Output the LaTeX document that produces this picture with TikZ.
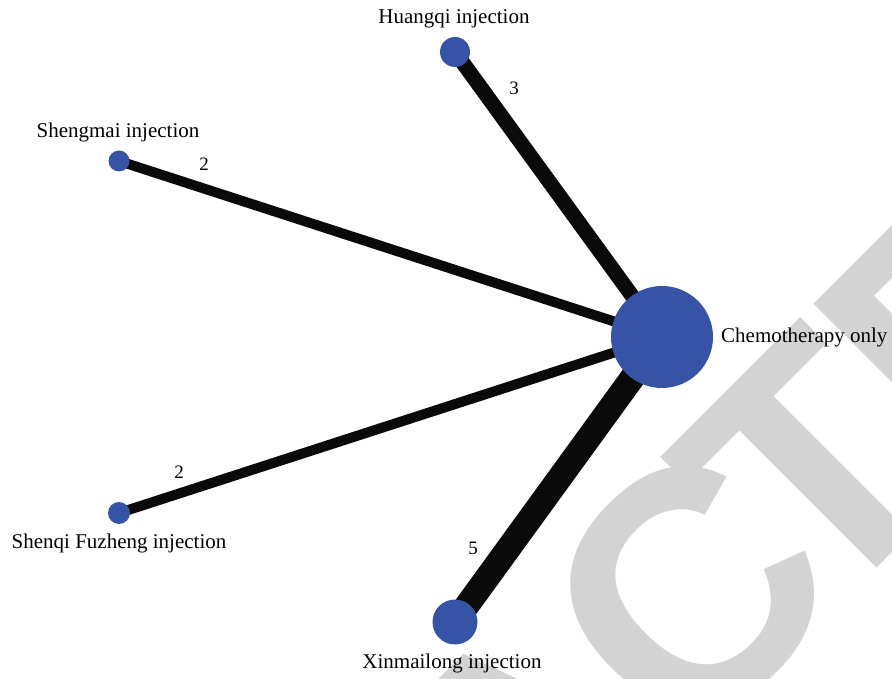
\documentclass[tikz,border=0pt]{standalone}
\usepackage{fontspec}
\setmainfont{Liberation Serif}
\newfontfamily\wmfont{Liberation Sans}
\pgfdeclarelayer{wmlayer}
\pgfdeclarelayer{edgelayer}
\pgfsetlayers{wmlayer,edgelayer,main}
\definecolor{nodeblue}{RGB}{55,83,165}
\definecolor{edgeblack}{RGB}{10,10,10}
\definecolor{wmgray}{RGB}{211,211,211}
\tikzset{
  netnode/.style={circle, fill=nodeblue, draw=none, inner sep=0pt},
  netlabel/.style={font=\fontsize{21}{21}\selectfont, text=black, inner sep=0pt},
  wlabel/.style={font=\fontsize{19}{19}\selectfont, text=black, inner sep=0pt},
  netedge/.style={draw=edgeblack, line cap=butt},
  wmletter/.style={font=\wmfont\bfseries\fontsize{336}{336}\selectfont, text=wmgray, inner sep=0pt, rotate=45, anchor=base}
}
\begin{document}
\begin{tikzpicture}[x=1pt,y=1pt]
\useasboundingbox (0,0) rectangle (892,678);
\begin{pgfonlayer}{wmlayer}
\begin{scope}
\clip (0,0) rectangle (892,678);
\node[wmletter] (wA) at (607.2,-159.8) {A};
\node[wmletter] (wC) at (770.6,3.6) {C};
\node[wmletter] (wT) at (893.6,126.6) {T};
\node[wmletter] (wE) at (1040.4,273.4) {E};
\end{scope}
\end{pgfonlayer}
% nodes
\node[netnode, minimum size=102] (chemo) at (662,341) {};
\node[netnode, minimum size=30] (hq) at (455,626) {};
\node[netnode, minimum size=21] (sm) at (119,517) {};
\node[netnode, minimum size=22] (sq) at (119,165) {};
\node[netnode, minimum size=45] (xm) at (455,56) {};
% edges
\begin{pgfonlayer}{edgelayer}
\draw[netedge, line width=15] (hq.center) -- (chemo.center);
\draw[netedge, line width=10] (sm.center) -- (chemo.center);
\draw[netedge, line width=10] (sq.center) -- (chemo.center);
\draw[netedge, line width=25] (xm.center) -- (chemo.center);
\end{pgfonlayer}
% edge weights
\node[wlabel] (w3) at (514,590) {3};
\node[wlabel] (w2a) at (204,514) {2};
\node[wlabel] (w2b) at (179,206) {2};
\node[wlabel] (w5) at (473,130) {5};
% labels
\node[netlabel, anchor=base] (hqlab) at (454,654) {Huangqi injection};
\node[netlabel, anchor=base] (smlab) at (118,540) {Shengmai injection};
\node[netlabel, anchor=base] (sqlab) at (119,129) {Shenqi Fuzheng injection};
\node[netlabel, anchor=base] (xmlab) at (452,10) {Xinmailong injection};
\node[netlabel, anchor=base west] (chlab) at (721,335) {Chemotherapy only};
\end{tikzpicture}
\end{document}
